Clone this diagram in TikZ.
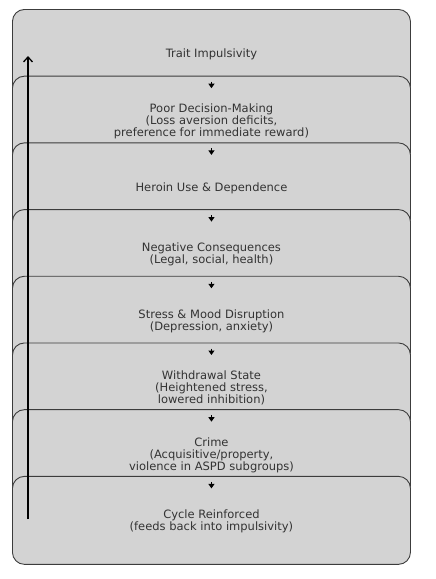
\documentclass[tikz,border=0pt]{standalone}
\usepackage{fontspec}
\setmainfont{DejaVu Sans}
\usetikzlibrary{arrows.meta}
\definecolor{boxfill}{HTML}{D3D3D3}
\definecolor{boxdraw}{HTML}{3C3C3C}
\definecolor{txt}{HTML}{333333}
\tikzset{
  stage/.style={draw=boxdraw, fill=boxfill, line width=0.9pt, rounded corners=12pt,
    minimum width=398pt, minimum height=88pt, anchor=north west, inner sep=0pt,
    align=center, text=txt, font=\fontsize{11.5}{12}\selectfont, text depth=-1.5pt},
  flow/.style={-{Triangle[length=4.5pt,width=6pt]}, line width=1pt, black},
  loop/.style={-{Straight Barb[length=5pt,width=9pt]}, line width=1.3pt, black}
}
\begin{document}
\begin{tikzpicture}[x=1pt,y=-1pt]
\useasboundingbox (0,0) rectangle (436,579);
\node[stage] (b1) at (12,9) {Trait Impulsivity};
\node[stage] (b2) at (12,75.7) {Poor Decision-Making\\(Loss aversion deficits,\\preference for immediate reward)};
\node[stage] (b3) at (12,142.4) {Heroin Use \& Dependence};
\node[stage] (b4) at (12,209.1) {Negative Consequences\\(Legal, social, health)};
\node[stage] (b5) at (12,275.8) {Stress \& Mood Disruption\\(Depression, anxiety)};
\node[stage] (b6) at (12,342.5) {Withdrawal State\\(Heightened stress,\\lowered inhibition)};
\node[stage] (b7) at (12,409.2) {Crime\\(Acquisitive/property,\\violence in ASPD subgroups)};
\node[stage] (b8) at (12,475.9) {Cycle Reinforced\\(feeds back into impulsivity)};
\foreach \k in {2,...,8}{
  \coordinate (s\k) at ([yshift=-6pt]b\k.north);
  \coordinate (e\k) at ([yshift=-12.5pt]b\k.north);
  \draw[flow] (s\k) -- (e\k);
}
\coordinate (fbS) at (28,519);
\coordinate (fbE) at (28,56);
\draw[loop] (fbS) -- (fbE);
\end{tikzpicture}
\end{document}
